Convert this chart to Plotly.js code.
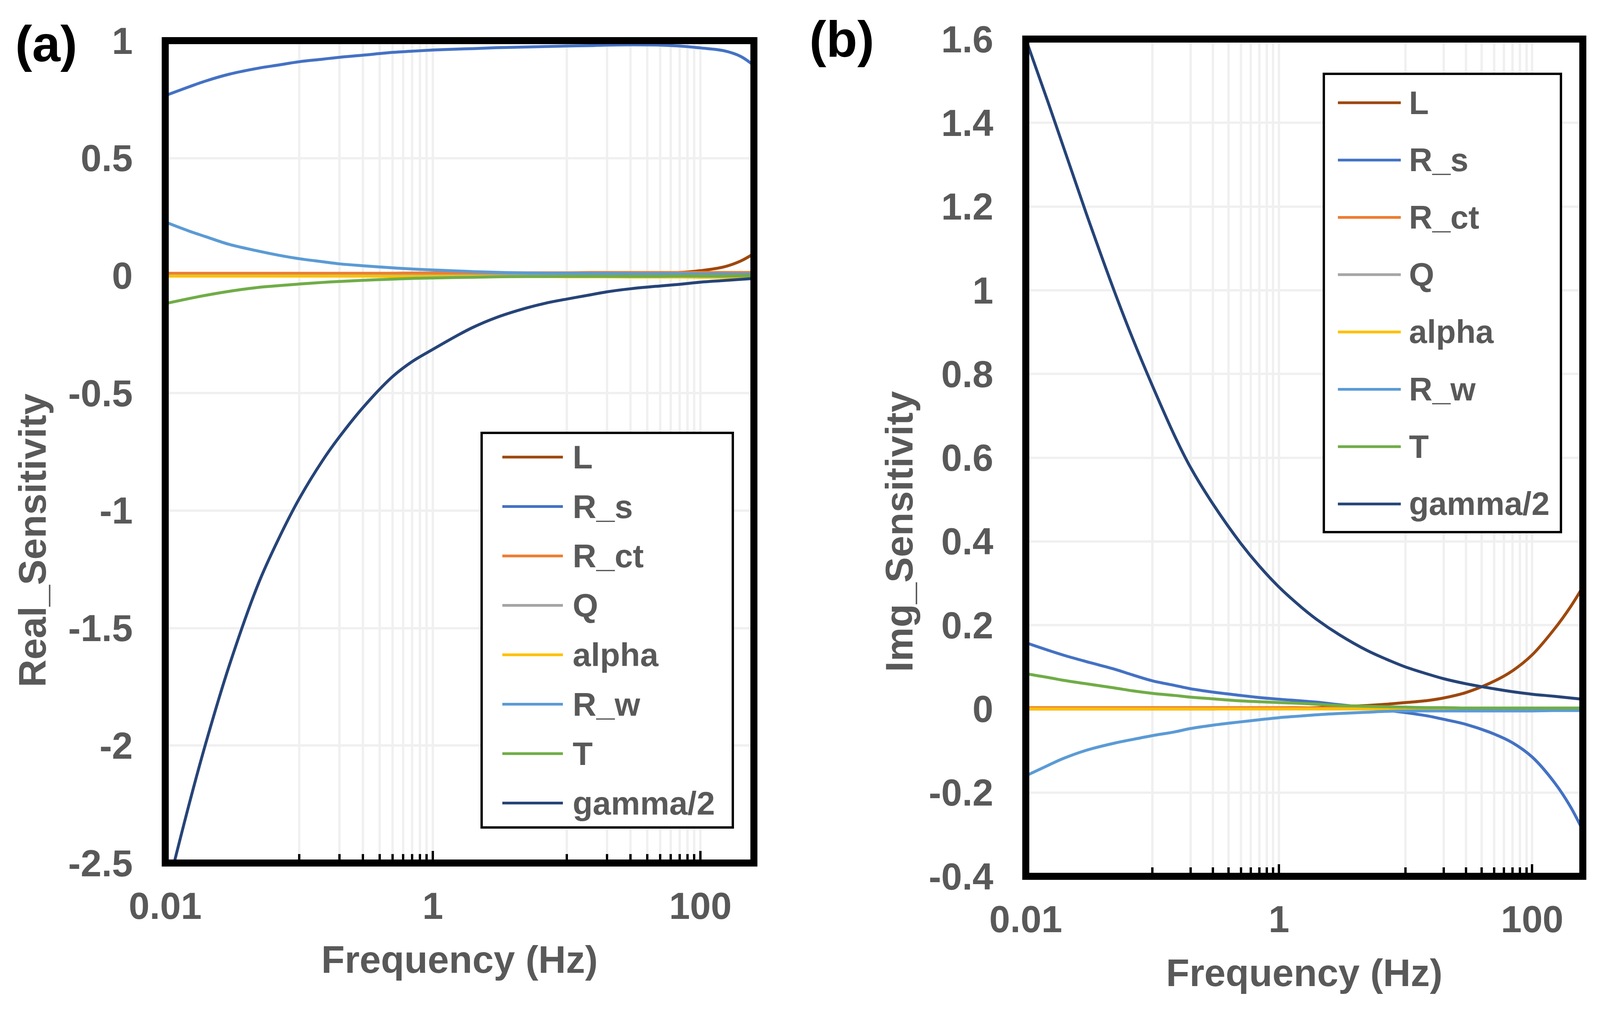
<!DOCTYPE html>
<html>
<head>
<meta charset="utf-8">
<script src="https://cdn.plot.ly/plotly-3.0.1.min.js"></script>
<style>
    body { margin: 0; background: #fff; }
    #chart { width: 4114px; height: 2598px; }
</style>
</head>
<body>
<div id="chart"></div>
<script>
// frequencies (Hz) the curves were read at
const freq = [0.01, 0.015, 0.02, 0.03, 0.05, 0.07, 0.1, 0.15, 0.2, 0.3, 0.5, 0.7, 1, 1.5, 2, 3, 5, 7, 10, 15, 20, 30, 50, 70, 100, 150, 200, 250];

const seriesNames = ['L', 'R_s', 'R_ct', 'Q', 'alpha', 'R_w', 'T', 'gamma/2'];
const seriesColors = ['#9E480E', '#4472C4', '#ED7D31', '#A5A5A5', '#FFC000', '#5B9BD5', '#70AD47', '#264478'];

// (a) real part sensitivity
const realL = [0, 0, 0, 0, 0, 0, 0, 0, 0, 0, 0, 0, 0, 0, 0, 0.001, 0.001, 0.001, 0.002, 0.002, 0.003, 0.005, 0.009, 0.013, 0.021, 0.037, 0.062, 0.093];
const realRs = [0.766, 0.803, 0.828, 0.857, 0.883, 0.896, 0.910, 0.921, 0.929, 0.938, 0.950, 0.955, 0.960, 0.964, 0.966, 0.970, 0.973, 0.975, 0.977, 0.979, 0.981, 0.982, 0.981, 0.977, 0.969, 0.957, 0.933, 0.895];
const realRct = [0.010, 0.010, 0.010, 0.010, 0.010, 0.010, 0.010, 0.010, 0.010, 0.010, 0.010, 0.011, 0.011, 0.011, 0.011, 0.012, 0.012, 0.012, 0.012, 0.013, 0.013, 0.013, 0.013, 0.013, 0.013, 0.013, 0.013, 0.013];
const realQ = [0, 0, 0, 0, 0, 0, 0, 0, 0, 0, 0, 0, 0, 0, 0, 0, 0, 0, 0, 0, 0, 0, 0, 0, 0, 0, 0, 0];
const realAlpha = [-0.002, -0.002, -0.002, -0.002, -0.002, -0.002, -0.002, -0.002, -0.002, -0.002, -0.003, -0.003, -0.003, -0.003, -0.003, -0.004, -0.004, -0.004, -0.005, -0.005, -0.005, -0.006, -0.006, -0.006, -0.007, -0.007, -0.008, -0.008];
const realRw = [0.228, 0.190, 0.166, 0.133, 0.104, 0.087, 0.072, 0.059, 0.050, 0.042, 0.033, 0.028, 0.024, 0.020, 0.017, 0.014, 0.011, 0.010, 0.010, 0.009, 0.009, 0.008, 0.008, 0.008, 0.007, 0.007, 0.006, 0.006];
const realT = [-0.119, -0.098, -0.084, -0.067, -0.050, -0.043, -0.036, -0.029, -0.025, -0.020, -0.015, -0.012, -0.010, -0.008, -0.007, -0.005, -0.004, -0.004, -0.003, -0.003, -0.003, -0.003, -0.003, -0.002, -0.002, -0.002, -0.001, -0.001];
const realGamma = [-2.65, -2.255, -1.994, -1.662, -1.307, -1.123, -0.951, -0.787, -0.687, -0.562, -0.430, -0.366, -0.314, -0.257, -0.220, -0.178, -0.138, -0.117, -0.100, -0.082, -0.069, -0.056, -0.044, -0.037, -0.028, -0.021, -0.016, -0.012];

// (b) imaginary part sensitivity
const imgL = [0, 0, 0, 0, 0, 0, 0, 0, 0, 0, 0.001, 0.001, 0.001, 0.002, 0.003, 0.005, 0.008, 0.011, 0.015, 0.020, 0.026, 0.039, 0.066, 0.091, 0.129, 0.191, 0.243, 0.290];
const imgRs = [0.158, 0.140, 0.128, 0.113, 0.095, 0.081, 0.067, 0.056, 0.048, 0.040, 0.032, 0.027, 0.023, 0.019, 0.016, 0.010, 0.003, -0.003, -0.009, -0.017, -0.025, -0.037, -0.060, -0.081, -0.115, -0.176, -0.233, -0.289];
const imgRct = [0.003, 0.003, 0.003, 0.003, 0.003, 0.003, 0.003, 0.003, 0.003, 0.003, 0.003, 0.003, 0.003, 0.003, 0.002, 0.002, 0.001, 0.001, 0.001, 0, 0, 0, -0.001, -0.001, -0.001, -0.002, -0.002, -0.002];
const imgQ = [0, 0, 0, 0, 0, 0, 0, 0, 0, 0, 0, 0, 0, 0, 0, 0, 0, 0, 0, 0, 0, 0, 0, 0, 0, 0, 0, 0];
const imgAlpha = [0, 0, 0, 0, 0, 0, 0, 0, 0, 0, 0, 0, 0, 0, 0, 0, 0, 0, 0, -0.001, -0.001, -0.001, -0.001, -0.002, -0.002, -0.002, -0.002, -0.002];
const imgRw = [-0.160, -0.135, -0.118, -0.099, -0.082, -0.073, -0.064, -0.055, -0.047, -0.039, -0.031, -0.026, -0.021, -0.017, -0.014, -0.011, -0.008, -0.006, -0.005, -0.005, -0.005, -0.005, -0.005, -0.005, -0.005, -0.004, -0.004, -0.004];
const imgT = [0.084, 0.075, 0.068, 0.060, 0.050, 0.043, 0.037, 0.032, 0.028, 0.024, 0.019, 0.017, 0.015, 0.013, 0.011, 0.008, 0.006, 0.005, 0.004, 0.003, 0.003, 0.002, 0.002, 0.002, 0.002, 0.002, 0.002, 0.002];
const imgGamma = [1.600, 1.449, 1.339, 1.184, 0.998, 0.884, 0.772, 0.652, 0.577, 0.490, 0.395, 0.341, 0.291, 0.243, 0.213, 0.177, 0.139, 0.119, 0.100, 0.083, 0.072, 0.060, 0.048, 0.041, 0.035, 0.030, 0.026, 0.023];

// ticks
const freqTicks = [0.01, 1, 100];
const freqTickText = ['0.01', '1', '100'];
const freqMinor = [0.1, 0.2, 0.3, 0.4, 0.5, 0.6, 0.7, 0.8, 0.9, 10, 20, 30, 40, 50, 60, 70, 80, 90];
const realTicks = [1, 0.5, 0, -0.5, -1, -1.5, -2, -2.5];
const realTickText = ['1', '0.5', '0', '-0.5', '-1', '-1.5', '-2', '-2.5'];
const imgTicks = [1.6, 1.4, 1.2, 1, 0.8, 0.6, 0.4, 0.2, 0, -0.2, -0.4];
const imgTickText = ['1.6', '1.4', '1.2', '1', '0.8', '0.6', '0.4', '0.2', '0', '-0.2', '-0.4'];

const W = 4114, H = 2598;
const FONT = '"Liberation Sans", Arial, sans-serif';
const GREY = '#595959';
const GRID = '#f0f0f0';

function px(x) { return x / W; }
function py(y) { return 1 - y / H; }

function font(size, color) {
    return { family: FONT, size: size, color: color || GREY, weight: 'bold' };
}

function makeTraces(columns, xa, ya) {
    return columns.map(function(col, i) {
        return {
            x: freq,
            y: col,
            type: 'scatter',
            mode: 'lines',
            name: seriesNames[i],
            xaxis: xa,
            yaxis: ya,
            showlegend: false,
            line: { color: seriesColors[i], width: 7.5, shape: 'spline', smoothing: 1 }
        };
    });
}

function freqAxis(domain, anchor) {
    return {
        type: 'log',
        domain: domain,
        anchor: anchor,
        range: [-2, 2.4],
        tickmode: 'array',
        tickvals: freqTicks,
        ticktext: freqTickText,
        ticks: 'inside',
        ticklen: 31,
        tickwidth: 6,
        tickcolor: '#000',
        showline: false,
        zeroline: false,
        showgrid: true,
        gridcolor: GRID,
        gridwidth: 6,
        minor: {
            tickmode: 'array',
            tickvals: freqMinor,
            ticks: 'inside',
            ticklen: 23,
            tickwidth: 6,
            tickcolor: '#000',
            showgrid: true,
            gridcolor: GRID,
            gridwidth: 6
        },
        tickfont: font(96),
        ticklabelstandoff: 46,
        title: { text: 'Frequency (Hz)', font: font(98), standoff: 50 },
        automargin: false,
        fixedrange: true
    };
}

function sensAxis(domain, anchor, range, vals, text) {
    return {
        domain: domain,
        anchor: anchor,
        range: range,
        tickmode: 'array',
        tickvals: vals,
        ticktext: text,
        ticks: '',
        showline: false,
        zeroline: false,
        showgrid: true,
        gridcolor: GRID,
        gridwidth: 6,
        tickfont: font(96),
        ticklabelstandoff: 82,
        automargin: false,
        fixedrange: true
    };
}

// hand-made legend box, so the sample lines can be as long as the original
function legendBox(b, shapes, annotations) {
    shapes.push({
        type: 'rect', xref: 'paper', yref: 'paper', layer: 'above',
        x0: px(b.x0), x1: px(b.x1), y0: py(b.y1), y1: py(b.y0),
        fillcolor: '#fff', line: { color: '#000', width: 6 }
    });
    seriesNames.forEach(function(name, i) {
        let y = py(b.firstY + i * b.step);
        shapes.push({
            type: 'line', xref: 'paper', yref: 'paper', layer: 'above',
            x0: px(b.lineX0), x1: px(b.lineX1), y0: y, y1: y,
            line: { color: seriesColors[i], width: 7 }
        });
        annotations.push({
            xref: 'paper', yref: 'paper', x: px(b.textX), y: y,
            xanchor: 'left', yanchor: 'middle', showarrow: false,
            text: name, font: font(b.size)
        });
    });
}

function frame(xa, ya) {
    return {
        type: 'rect', xref: xa + ' domain', yref: ya + ' domain', layer: 'above',
        x0: 0, x1: 1, y0: 0, y1: 1,
        line: { color: '#000', width: 18 }
    };
}

let data = []
    .concat(makeTraces([realL, realRs, realRct, realQ, realAlpha, realRw, realT, realGamma], 'x', 'y'))
    .concat(makeTraces([imgL, imgRs, imgRct, imgQ, imgAlpha, imgRw, imgT, imgGamma], 'x2', 'y2'));

let shapes = [frame('x', 'y'), frame('x2', 'y2')];
let annotations = [
    { xref: 'paper', yref: 'paper', x: px(83), y: py(1383), textangle: -90, showarrow: false,
      xanchor: 'center', yanchor: 'middle', text: 'Real_Sensitivity', font: font(98) },
    { xref: 'paper', yref: 'paper', x: px(2302), y: py(1361), textangle: -90, showarrow: false,
      xanchor: 'center', yanchor: 'middle', text: 'Img_Sensitivity', font: font(98) },
    { xref: 'paper', yref: 'paper', x: px(118), y: py(112), showarrow: false,
      xanchor: 'center', yanchor: 'middle', text: '(a)', font: font(130, '#000') },
    { xref: 'paper', yref: 'paper', x: px(2155), y: py(100), showarrow: false,
      xanchor: 'center', yanchor: 'middle', text: '(b)', font: font(130, '#000') }
];

legendBox({ x0: 1233, x1: 1876, y0: 1108, y1: 2118, lineX0: 1286, lineX1: 1441,
            textX: 1464, firstY: 1170, step: 126.5, size: 84 }, shapes, annotations);
legendBox({ x0: 3389, x1: 3996, y0: 189, y1: 1362, lineX0: 3425, lineX1: 3586,
            textX: 3605, firstY: 263, step: 146.7, size: 83 }, shapes, annotations);

let layout = {
    width: W,
    height: H,
    margin: { l: 0, r: 0, t: 0, b: 0 },
    paper_bgcolor: '#fff',
    plot_bgcolor: '#fff',
    showlegend: false,
    xaxis: freqAxis([px(423), px(1930)], 'y'),
    yaxis: sensAxis([py(2209), py(104)], 'x', [-2.5, 1], realTicks, realTickText),
    xaxis2: freqAxis([px(2626), px(4052)], 'y2'),
    yaxis2: sensAxis([py(2243), py(100)], 'x2', [-0.4, 1.6], imgTicks, imgTickText),
    shapes: shapes,
    annotations: annotations
};

Plotly.newPlot('chart', data, layout, { displayModeBar: false, staticPlot: true });
</script>
</body>
</html>
